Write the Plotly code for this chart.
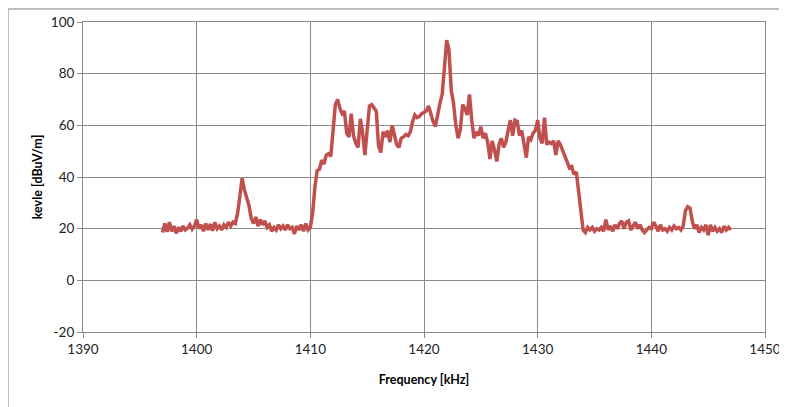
import plotly.graph_objects as go

# Frequency sampling (kHz)
freq_start = 1397.0
freq_step = 0.2

level = [
    18.5, 22.0, 18.8, 22.5, 19.0, 21.0, 18.2, 20.5, 19.0, 21.0,
    19.5, 20.2, 21.5, 19.8, 21.0, 23.5, 20.0, 21.5, 19.0, 22.0,
    19.5, 21.8, 19.2, 22.5, 20.0, 21.0, 19.5, 21.5, 20.5, 22.5,
    21.0, 22.5, 22.0, 26.0, 32.5, 39.5, 35.0, 32.5, 29.0, 24.0,
    22.0, 24.5, 21.0, 23.5, 21.5, 23.0, 20.5, 21.5, 19.0, 20.5,
    19.5, 21.5, 20.0, 21.0, 19.5, 21.5, 20.0, 20.5, 18.0, 21.0,
    19.5, 21.5, 19.0, 22.0, 19.5, 20.5, 26.0, 36.0, 42.5, 43.0,
    46.5, 45.0, 48.5, 49.0, 48.0, 58.0, 68.0, 70.0, 66.5, 64.5,
    65.5, 57.0, 55.5, 64.5, 56.0, 53.0, 51.5, 62.5, 57.0, 48.5,
    60.0, 67.5, 68.0, 67.0, 65.5, 52.0, 49.5, 57.5, 55.5, 58.0,
    53.5, 60.0, 56.0, 52.5, 51.5, 55.0, 55.5, 56.5, 56.0, 57.5,
    61.5, 64.0, 63.0, 63.5, 64.5, 65.0, 65.5, 67.5, 64.0, 61.5,
    59.5, 65.0, 68.5, 72.0, 84.0, 93.0, 89.0, 73.5, 68.5, 60.0,
    55.0, 58.5, 68.0, 66.5, 64.0, 72.0, 62.0, 55.0, 57.5, 56.0,
    59.5, 55.0, 57.0, 53.5, 47.0, 54.0, 50.5, 46.0, 52.5, 55.0,
    51.5, 53.5, 58.0, 62.0, 56.0, 62.0, 61.5, 56.0, 58.0, 52.0,
    47.5, 55.5, 54.5, 57.0, 58.0, 62.0, 55.0, 53.0, 63.0, 52.5,
    53.5, 53.0, 54.0, 48.5, 54.0, 52.5, 50.0, 47.5, 45.0, 43.5,
    44.0, 41.0, 42.0, 35.0, 27.0, 19.5, 18.5, 20.5, 19.5, 20.5,
    19.0, 20.0, 19.5, 20.5, 19.0, 23.5, 19.5, 21.0, 19.0, 21.5,
    20.0, 22.0, 23.0, 20.0, 22.5, 23.0, 19.5, 21.0, 22.5, 20.0,
    21.5, 19.5, 18.5, 19.5, 20.5, 20.0, 22.5, 21.0, 19.0, 21.5,
    19.5, 20.0, 19.0, 20.5, 19.5, 21.0, 20.0, 20.5, 19.5, 21.0,
    27.0, 28.5, 28.0, 23.0, 20.0, 21.5, 18.5, 20.5, 19.5, 21.5,
    17.5, 21.5, 19.0, 20.5, 19.0, 20.0, 18.5, 21.0, 19.5, 20.5,
    19.5,
]

x_ticks = [1390, 1400, 1410, 1420, 1430, 1440, 1450]
y_ticks = [-20, 0, 20, 40, 60, 80, 100]
y_tick_labels = ["-20", "0", "20", "40", "60", "80", "100"]

fig = go.Figure()
fig.add_trace(go.Scatter(
    x0=freq_start, dx=freq_step, y=level,
    mode="lines",
    line=dict(color="#C0504D", width=3.5),
    showlegend=False,
))

font_family = "Lato, 'Open Sans', sans-serif"
axis_common = dict(
    showgrid=True, gridcolor="#8A8A8A", gridwidth=1,
    showline=True, linecolor="#8A8A8A", linewidth=1, mirror=True,
    ticks="outside", ticklen=5, tickcolor="#8A8A8A",
    zeroline=False,
    tickfont=dict(family=font_family, size=13.5, color="#222222"),
)

fig.update_xaxes(
    range=[1390, 1450], tickvals=x_ticks,
    title=dict(text="<b>Frequency [kHz]</b>", standoff=19,
               font=dict(family=font_family, size=12.5, color="#000000")),
    automargin=False,
    **axis_common,
)
fig.update_yaxes(
    range=[-20, 100], tickvals=y_ticks, ticktext=y_tick_labels,
    title=dict(text="<b>kevle [dBuV/m]</b>", standoff=5,
               font=dict(family=font_family, size=12.5, color="#000000")),
    automargin=False,
    **axis_common,
)

fig.add_shape(
    type="rect", xref="paper", yref="paper",
    x0=-0.11, x1=1.2, y0=-0.4, y1=1.042,
    line=dict(color="#A6A6A6", width=1.5), fillcolor="rgba(0,0,0,0)",
    layer="below",
)

# page body has an 8px margin; compensate so the plot area lands at
# x 83..765, y 22..332 in the 787x407 window
fig.update_layout(
    width=787, height=407,
    margin=dict(l=75, r=30, t=14, b=83),
    paper_bgcolor="white", plot_bgcolor="white",
)

fig.write_html("out.html")
